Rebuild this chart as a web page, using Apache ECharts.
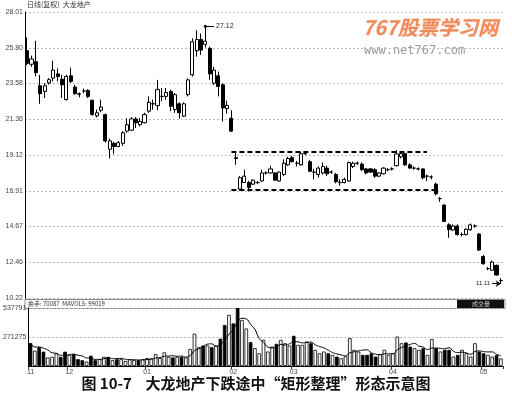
<!DOCTYPE html>
<html>
<head>
<meta charset="utf-8">
<script src="https://cdn.jsdelivr.net/npm/echarts@6/dist/echarts.min.js"></script>
<style>
  html, body { margin: 0; padding: 0; background: #fff; }
  #main { width: 512px; height: 398px; }
</style>
</head>
<body>
<div id="main"></div>
<script>
// 日K: [开, 收, 低, 高]
var candles = [
    [25.60, 24.82, 24.70, 26.43], [24.76, 25.09, 24.60, 25.30], [24.92, 24.24, 24.00, 26.22], [23.42, 22.93, 22.30, 24.10],
    [23.07, 23.42, 22.66, 23.58], [23.60, 23.80, 23.50, 23.90], [23.90, 24.40, 23.70, 24.98], [24.16, 24.00, 23.70, 24.50],
    [23.83, 23.48, 22.66, 24.10], [22.56, 24.00, 22.50, 24.10], [24.04, 23.69, 23.59, 24.55], [23.34, 22.93, 22.87, 23.48],
    [22.92, 22.90, 22.70, 23.00], [23.10, 23.10, 22.95, 23.25], [23.13, 22.76, 22.66, 23.20], [22.52, 21.63, 21.57, 22.56],
    [21.55, 21.74, 21.45, 21.94], [21.90, 22.10, 21.78, 22.56], [21.63, 19.99, 19.89, 21.69], [19.47, 19.99, 18.90, 20.14],
    [19.84, 19.64, 19.16, 19.93], [19.64, 19.88, 19.60, 19.98], [19.84, 20.50, 19.68, 20.60], [20.60, 21.00, 20.50, 21.40],
    [20.66, 21.36, 20.60, 21.48], [21.36, 21.12, 20.80, 21.48], [21.00, 21.20, 20.90, 21.40], [21.12, 21.63, 21.08, 21.74],
    [21.84, 22.39, 21.74, 22.76], [22.30, 22.30, 21.94, 22.56], [22.19, 23.18, 21.90, 23.79], [22.76, 22.76, 22.45, 23.28],
    [22.76, 23.00, 22.55, 23.28], [23.07, 22.15, 21.84, 23.18], [21.94, 22.87, 21.74, 22.97], [22.30, 21.74, 21.38, 22.39],
    [21.53, 22.30, 21.48, 22.39], [22.87, 23.79, 22.76, 23.89], [24.10, 26.16, 24.00, 26.37], [25.60, 26.30, 25.23, 26.88],
    [26.30, 25.64, 25.34, 26.67], [26.00, 26.20, 25.80, 27.12], [25.75, 24.16, 23.79, 25.85], [23.58, 24.40, 23.48, 24.60],
    [24.04, 23.38, 22.76, 24.30], [23.48, 22.04, 21.20, 23.58], [22.00, 22.20, 21.69, 22.50], [21.40, 20.60, 20.54, 21.90],
    // 矩形整理
    [18.95, 18.90, 18.51, 19.32], [17.00, 17.70, 16.90, 17.80], [17.40, 17.80, 17.40, 18.20], [17.40, 17.10, 16.85, 17.50],
    [17.30, 17.55, 17.25, 17.60], [17.40, 17.40, 17.30, 17.50], [17.50, 18.00, 17.45, 18.20], [18.00, 18.00, 17.90, 18.10],
    [18.00, 18.25, 17.95, 18.45], [18.00, 17.55, 17.50, 18.05], [17.50, 18.05, 17.45, 18.10], [17.90, 18.60, 17.80, 18.85],
    [18.50, 18.90, 18.45, 19.00], [18.95, 18.70, 18.65, 19.05], [18.60, 18.60, 18.40, 18.75], [18.50, 19.20, 18.45, 19.32],
    [19.20, 19.20, 19.10, 19.35], [18.70, 18.10, 18.05, 18.80], [18.05, 18.05, 17.60, 18.25], [17.90, 18.30, 17.70, 18.40],
    [18.00, 18.40, 17.90, 18.65], [18.30, 17.95, 17.80, 18.45], [18.05, 18.05, 17.95, 18.15], [17.90, 17.45, 17.35, 18.00],
    [17.40, 17.40, 17.20, 17.60], [17.40, 17.60, 17.35, 17.70], [17.50, 18.65, 17.45, 18.70], [18.40, 18.60, 18.30, 18.70],
    [18.60, 18.60, 18.50, 18.70], [18.55, 18.20, 18.10, 18.65], [18.25, 18.00, 17.90, 18.30], [18.25, 18.05, 18.00, 18.30],
    [18.20, 17.80, 17.70, 18.30], [17.80, 18.00, 17.75, 18.05], [17.95, 18.30, 17.90, 18.35], [18.20, 18.20, 18.10, 18.30],
    [18.25, 18.25, 18.15, 18.35], [18.45, 19.18, 18.40, 19.42], [19.00, 19.20, 18.90, 19.35], [19.20, 18.50, 18.45, 19.25],
    [18.50, 18.30, 18.25, 18.60], [18.30, 18.30, 18.20, 18.40], [18.25, 18.25, 18.15, 18.35], [18.25, 17.70, 17.60, 18.30],
    [17.80, 17.80, 17.50, 17.90], [17.75, 17.75, 17.60, 17.85],
    // 破位下跌
    [17.30, 16.70, 16.60, 17.40], [16.40, 16.40, 16.20, 16.50], [16.00, 14.98, 14.94, 16.05], [14.77, 14.47, 13.97, 14.87],
    [14.45, 14.70, 14.40, 14.80], [14.70, 14.17, 14.10, 14.80], [14.17, 14.17, 14.05, 14.30], [14.17, 14.50, 14.10, 14.55],
    [14.47, 14.77, 14.40, 14.85], [14.70, 14.70, 14.60, 14.80], [14.20, 13.20, 13.15, 14.25], [12.80, 12.35, 12.30, 12.90],
    [12.05, 12.05, 11.95, 12.15], [11.95, 12.45, 11.90, 12.55], [12.25, 11.65, 11.60, 12.30], [11.30, 11.30, 11.11, 11.45]
];

// 成交量(千)
var volumes = [
    212, 142, 174, 133, 79, 85, 117, 85, 133, 104, 110, 63, 54, 41, 95, 54, 63, 85, 85, 54,
    63, 63, 47, 63, 54, 54, 63, 73, 70, 110, 73, 126, 85, 79, 85, 85, 79, 158, 300, 174,
    190, 190, 174, 190, 253, 380, 474, 395, 537, 427, 348, 221, 165, 118, 242, 134, 180, 205, 242, 211,
    190, 280, 196, 196, 227, 211, 150, 118, 134, 118, 103, 87, 72, 90, 258, 150, 134, 103, 103, 118,
    87, 110, 150, 103, 118, 273, 211, 218, 180, 165, 150, 165, 103, 249, 165, 134, 150, 150, 87, 103,
    150, 118, 87, 211, 134, 118, 103, 87, 100, 70
];

var priceTicks = ['10.22', '12.46', '14.67', '16.91', '19.12', '21.36', '23.58', '25.80', '28.01'];
var volTicks = ['', '271275', '537791'];
var monthIdx = [0, 9, 27, 47, 61, 84, 105];
var monthLabels = ['11', '12', '01', '02', '03', '04', '05'];

var priceMin = 10.22, priceMax = 28.01;
var priceStep = (priceMax - priceMin) / 8;
var volMax = 537791;

var cats = candles.map(function (d, i) { return String(i); });

// 5日均量
var maVol = [];
for (var i = 0; i < volumes.length; i++) {
    var s = 0, n = 0;
    for (var j = Math.max(0, i - 4); j <= i; j++) { s += volumes[j]; n++; }
    maVol.push(s / n * 1000);
}

var volData = volumes.map(function (v, i) {
    var up = candles[i][1] >= candles[i][0];
    return {
        value: v * 1000,
        itemStyle: { color: up ? '#fff' : '#000', borderColor: '#000', borderWidth: 0.8 }
    };
});

var chart = echarts.init(document.getElementById('main'));
var labelFont = { fontSize: 7, color: '#444', fontFamily: 'Liberation Sans' };

var option = {
    animation: false,
    backgroundColor: '#fff',
    grid: [
        { left: 25, top: 12, width: 478, height: 286 },
        { left: 25, top: 308, width: 478, height: 58 }
    ],
    xAxis: [
        {
            type: 'category', gridIndex: 0, data: cats, boundaryGap: true,
            axisLine: { show: false }, axisTick: { show: false }, axisLabel: { show: false }, splitLine: { show: false }
        },
        {
            type: 'category', gridIndex: 1, data: cats, boundaryGap: true,
            axisLine: { show: true, lineStyle: { color: '#000', width: 1 } },
            axisTick: {
                show: true, length: 3, lineStyle: { color: '#333' },
                interval: function (idx) { return monthIdx.indexOf(idx) >= 0; }
            },
            axisLabel: Object.assign({
                margin: 3,
                interval: function (idx) { return monthIdx.indexOf(idx) >= 0; },
                formatter: function (v, idx) {
                    var k = monthIdx.indexOf(idx);
                    return k >= 0 ? monthLabels[k] : '';
                }
            }, labelFont),
            splitLine: { show: false }
        }
    ],
    yAxis: [
        {
            type: 'value', gridIndex: 0, min: priceMin, max: priceMax, interval: priceStep,
            axisLine: { show: true, lineStyle: { color: '#000', width: 1 } },
            axisTick: { show: false },
            axisLabel: Object.assign({
                margin: 2,
                formatter: function (v) { return priceTicks[Math.round((v - priceMin) / priceStep)]; }
            }, labelFont),
            splitLine: { show: true, lineStyle: { color: '#bbb', type: [2, 2], width: 1 } }
        },
        {
            type: 'value', gridIndex: 1, min: 0, max: volMax, interval: volMax / 2,
            axisLine: { show: true, lineStyle: { color: '#000', width: 1 } },
            axisTick: { show: false },
            axisLabel: Object.assign({
                margin: 2,
                formatter: function (v) { return volTicks[Math.round(v / (volMax / 2))]; }
            }, labelFont),
            splitLine: { show: true, lineStyle: { color: '#bbb', type: [2, 2], width: 1 } }
        }
    ],
    series: [
        {
            type: 'candlestick',
            xAxisIndex: 0, yAxisIndex: 0,
            data: candles,
            barWidth: 3.6,
            itemStyle: { color: '#fff', color0: '#000', borderColor: '#000', borderColor0: '#000', borderWidth: 1 },
            markLine: {
                silent: true,
                symbol: 'none',
                data: [
                    // 矩形上下边
                    [{ coord: [47, 19.32] }, { coord: [92, 19.32] }],
                    [{ coord: [47, 16.95] }, { coord: [94, 16.95] }],
                    // 最高价/最低价标注
                    [
                        { coord: [41, 27.12], symbol: 'circle', symbolSize: 3,
                          lineStyle: { type: 'solid', width: 1 } },
                        { coord: [43, 27.12], symbol: 'none',
                          label: { show: true, position: 'end', formatter: '27.12', fontSize: 7, color: '#222', distance: 2 } }
                    ],
                    [
                        { coord: [107, 11.11], symbol: 'none', lineStyle: { type: 'solid', width: 1 },
                          label: { show: true, position: 'start', formatter: '11.11', fontSize: 6, color: '#222', distance: 2 } },
                        { coord: [109, 11.11], symbol: 'arrow', symbolSize: 5 }
                    ]
                ],
                label: { show: false },
                lineStyle: { color: '#000', width: 2, type: [5, 3] }
            }
        },
        {
            type: 'bar',
            xAxisIndex: 1, yAxisIndex: 1,
            data: volData,
            barWidth: 3.6
        },
        {
            type: 'line',
            xAxisIndex: 1, yAxisIndex: 1,
            data: maVol,
            smooth: true,
            symbol: 'none',
            lineStyle: { color: '#000', width: 1 }
        }
    ],
    graphic: [
        { type: 'text', left: 27, top: 1, style: { text: '日线(复权)  大龙地产', fontSize: 7, fill: '#333', fontFamily: 'Noto Sans CJK SC' } },
        { type: 'rect', shape: { x: 25, y: 299.5, width: 480, height: 9 }, style: { fill: 'none', stroke: '#888', lineWidth: 1 } },
        { type: 'text', left: 28, top: 300.5, style: { text: '换手: 70087  MAVOL5: 99019', fontSize: 6, fill: '#333', fontFamily: 'Noto Sans CJK SC' } },
        { type: 'rect', shape: { x: 457, y: 300, width: 47, height: 8 }, style: { fill: '#111' } },
        { type: 'text', left: 472, top: 300.5, style: { text: '成交量', fontSize: 6, fill: '#ccc', fontFamily: 'Noto Sans CJK SC' } },
        { type: 'text', left: 362, top: 17, style: { text: '767股票学习网', fontSize: 20, fontStyle: 'italic', fontWeight: 'bold', fill: '#f08a5d', stroke: '#fce4d8', lineWidth: 1, fontFamily: 'Noto Sans CJK SC' } },
        { type: 'text', left: 364, top: 45, style: { text: 'www.net767.com', fontSize: 12, fill: '#999', fontFamily: 'DejaVu Sans Mono' } },
        { type: 'text', left: 'center', top: 376, style: { text: '图 10-7    大龙地产下跌途中“矩形整理”形态示意图', fontSize: 15, fontWeight: 'bold', fill: '#111', fontFamily: 'Noto Sans CJK SC' } }
    ]
};

chart.setOption(option);
</script>
</body>
</html>
